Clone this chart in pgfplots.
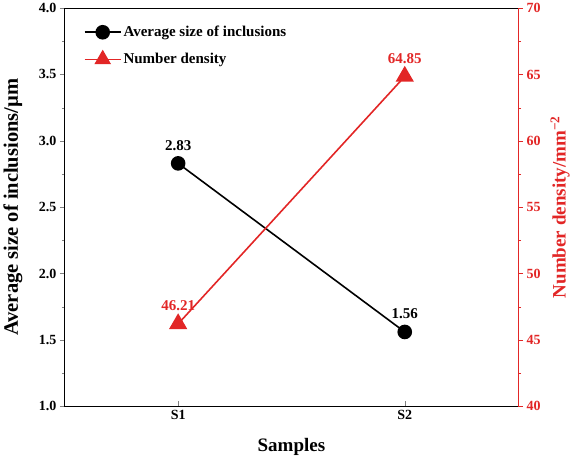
\documentclass[border=0pt]{standalone}
\usepackage{pgfplots}
\pgfplotsset{compat=1.18}
\usepackage{fontspec}
\setmainfont{Liberation Serif}
\definecolor{myred}{RGB}{226,38,38}
\begin{document}
\begin{tikzpicture}
\pgfplotsset{every axis/.append style={
  scale only axis, width=453pt, height=398pt,
  xmin=0.5, xmax=2.5,
  /pgf/number format/assume math mode=true,
  tick label style={font=\fontsize{14}{16}\selectfont\bfseries},
  label style={font=\fontsize{19}{22}\selectfont\bfseries},
  major tick length=5pt, minor tick length=3pt,
}}
\begin{axis}[
  ymin=1, ymax=4,
  xtick={1,2}, xticklabels={S1,S2},
  ytick={1,1.5,...,4},
  yticklabel style={/pgf/number format/.cd,fixed,fixed zerofill,precision=1},
  minor y tick num=1,
  xtick pos=bottom, ytick pos=left,
  xtick align=inside, ytick align=outside,
  axis line style={black, line width=1pt},
  xlabel={Samples},
  xlabel style={at={(axis description cs:0.5,0)}, anchor=center, yshift=-41pt},
  ylabel={Average size of inclusions/µm},
  ylabel style={at={(axis description cs:0,0.5)}, anchor=center, yshift=52pt, font=\fontsize{20.5}{24}\selectfont\bfseries},
  legend image code/.code={\draw[mark repeat=2,mark phase=2,#1] plot coordinates {(0pt,0pt) (18pt,0pt) (36pt,0pt)};},
  legend style={draw=none, fill=none, at={(axis description cs:0.035,0.965)}, anchor=north west,
    font=\fontsize{15}{17}\selectfont\bfseries, row sep=11pt},
  legend cell align=left,
  nodes near coords,
  point meta=explicit symbolic,
  every node near coord/.append style={font=\fontsize{15}{17}\selectfont\bfseries, yshift=9pt},
]
\addplot[black, line width=1.6pt, mark=*, mark size=6.5pt] coordinates {(1,2.83)[2.83] (2,1.56)[1.56]};
\addlegendentry{Average size of inclusions}
\addlegendimage{myred, line width=1.6pt, mark=triangle*, mark size=8pt}
\addlegendentry{Number density}
\end{axis}
\begin{axis}[
  ymin=40, ymax=70,
  axis x line=none,
  axis y line*=right,
  ytick={40,45,...,70},
  minor y tick num=1,
  ytick align=outside,
  axis line style={myred, line width=1pt},
  y tick style={myred},
  yticklabel style={myred},
  ylabel style={myred, at={(axis description cs:1,0.5)}, anchor=center, yshift=-42pt},
  ylabel={Number density/mm\textsuperscript{−2}},
  nodes near coords,
  point meta=explicit symbolic,
  every node near coord/.append style={font=\fontsize{15}{17}\selectfont\bfseries, myred, yshift=9pt},
]
\addplot[myred, line width=1.6pt, mark=triangle*, mark size=9pt] coordinates {(1,46.21)[46.21] (2,64.85)[64.85]};
\end{axis}
\end{tikzpicture}
\end{document}
